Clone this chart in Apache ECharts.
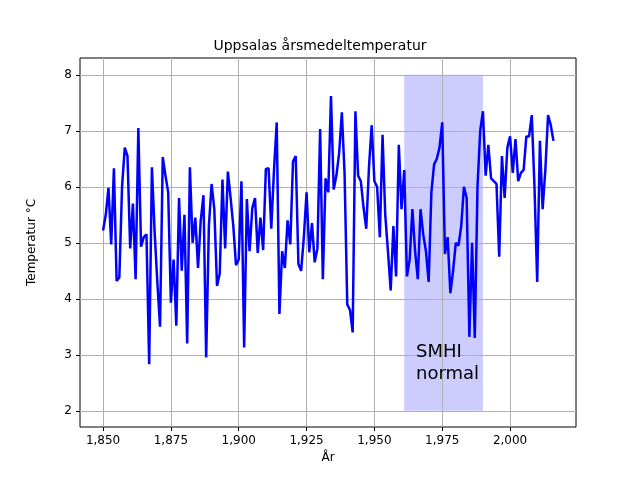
<!DOCTYPE html>
<html><head><meta charset="utf-8">
<script src="https://cdn.jsdelivr.net/npm/echarts@6/dist/echarts.min.js"></script>
<style>html,body{margin:0;padding:0;background:#fff}#c{width:640px;height:480px}</style>
</head><body><div id="c"></div>
<script>
const startYear = 1850;
const temps = [5.22,5.5,5.98,4.97,6.33,4.32,4.38,6.0,6.7,6.55,4.9,5.7,4.35,7.05,4.93,5.1,5.15,2.83,6.35,5.2,
4.3,3.5,6.53,6.2,5.9,3.93,4.7,3.52,5.8,4.5,5.5,3.2,6.35,5.0,5.45,4.55,5.4,5.85,2.95,5.3,
6.05,5.6,4.23,4.45,6.13,4.9,6.27,5.8,5.3,4.6,4.7,6.1,3.13,5.78,4.85,5.62,5.8,4.82,5.45,4.87,
6.32,6.33,5.25,6.3,7.15,3.73,4.85,4.55,5.4,4.97,6.45,6.55,4.62,4.5,5.1,5.9,4.83,5.35,4.65,4.9,
7.03,4.35,6.15,5.9,7.62,5.95,6.2,6.6,7.33,6.25,3.9,3.8,3.4,7.35,6.2,6.1,5.63,5.25,6.35,7.1,
6.1,6.0,5.1,6.93,5.5,4.85,4.15,5.3,4.4,6.75,5.6,6.3,4.4,4.7,5.6,4.85,4.35,5.6,5.15,4.85,
4.3,5.9,6.4,6.5,6.7,7.15,4.8,5.1,4.1,4.5,5.0,4.95,5.3,6.0,5.8,3.32,5.0,3.3,6.0,7.0,
7.35,6.2,6.75,6.15,6.1,6.05,4.75,6.55,5.8,6.7,6.9,6.25,6.85,6.1,6.25,6.3,6.9,6.9,7.28,6.0,
4.3,6.82,5.6,6.3,7.28,7.1,6.82];
const xTicks = [1850,1875,1900,1925,1950,1975,2000];
const yTicks = [2,3,4,5,6,7,8];
const normalPeriod = [1961,1990];
const normalRange = [2,8];

const data = temps.map((v,i)=>[startYear+i,v]);
const grid = {color:'#b0b0b0',width:1};
const chart = echarts.init(document.getElementById('c'));
chart.setOption({
  animation:false,
  title:{text:'Uppsalas årsmedeltemperatur',left:'center',top:34,textStyle:{fontFamily:'DejaVu Sans',fontSize:14,fontWeight:'normal',color:'#000'}},
  grid:{left:80,right:64,top:58,bottom:53,show:true,borderColor:'#000',borderWidth:1,backgroundColor:'transparent'},
  xAxis:{type:'value',min:1841.5,max:2024.3,name:'År',nameLocation:'middle',nameGap:24,
    nameTextStyle:{fontFamily:'DejaVu Sans',fontSize:12,color:'#000'},
    axisLine:{show:false},splitLine:{show:false},
    axisTick:{show:true,customValues:xTicks,length:4,inside:false,lineStyle:{color:'#000'}},
    axisLabel:{customValues:xTicks,fontFamily:'DejaVu Sans',fontSize:12,color:'#000',margin:8}},
  yAxis:{type:'value',min:1.71,max:8.30,name:'Temperatur °C',nameLocation:'middle',nameGap:42,
    nameTextStyle:{fontFamily:'DejaVu Sans',fontSize:12,color:'#000'},
    axisLine:{show:false},splitLine:{show:false},
    axisTick:{show:true,customValues:yTicks,length:4,lineStyle:{color:'#000'}},
    axisLabel:{customValues:yTicks,fontFamily:'DejaVu Sans',fontSize:12,color:'#000',margin:8}},
  series:[{type:'line',data:data,showSymbol:false,lineStyle:{color:'#0000ff',width:2.5},z:5,
    markArea:{silent:true,itemStyle:{color:'#ccccff'},data:[[{coord:[normalPeriod[0],normalRange[0]]},{coord:[normalPeriod[1],normalRange[1]]}]]},
    markLine:{silent:true,symbol:'none',label:{show:false},lineStyle:{color:'#b0b0b0',width:1,type:'solid'},
      data:xTicks.map(x=>({xAxis:x})).concat(yTicks.map(y=>({yAxis:y})))}
  }],
  graphic:[{type:'text',left:416,top:341,z:10,style:{text:'SMHI\nnormal',fill:'#000',font:'18px DejaVu Sans',align:'center',lineHeight:22,x:36}}]
});
</script></body></html>
